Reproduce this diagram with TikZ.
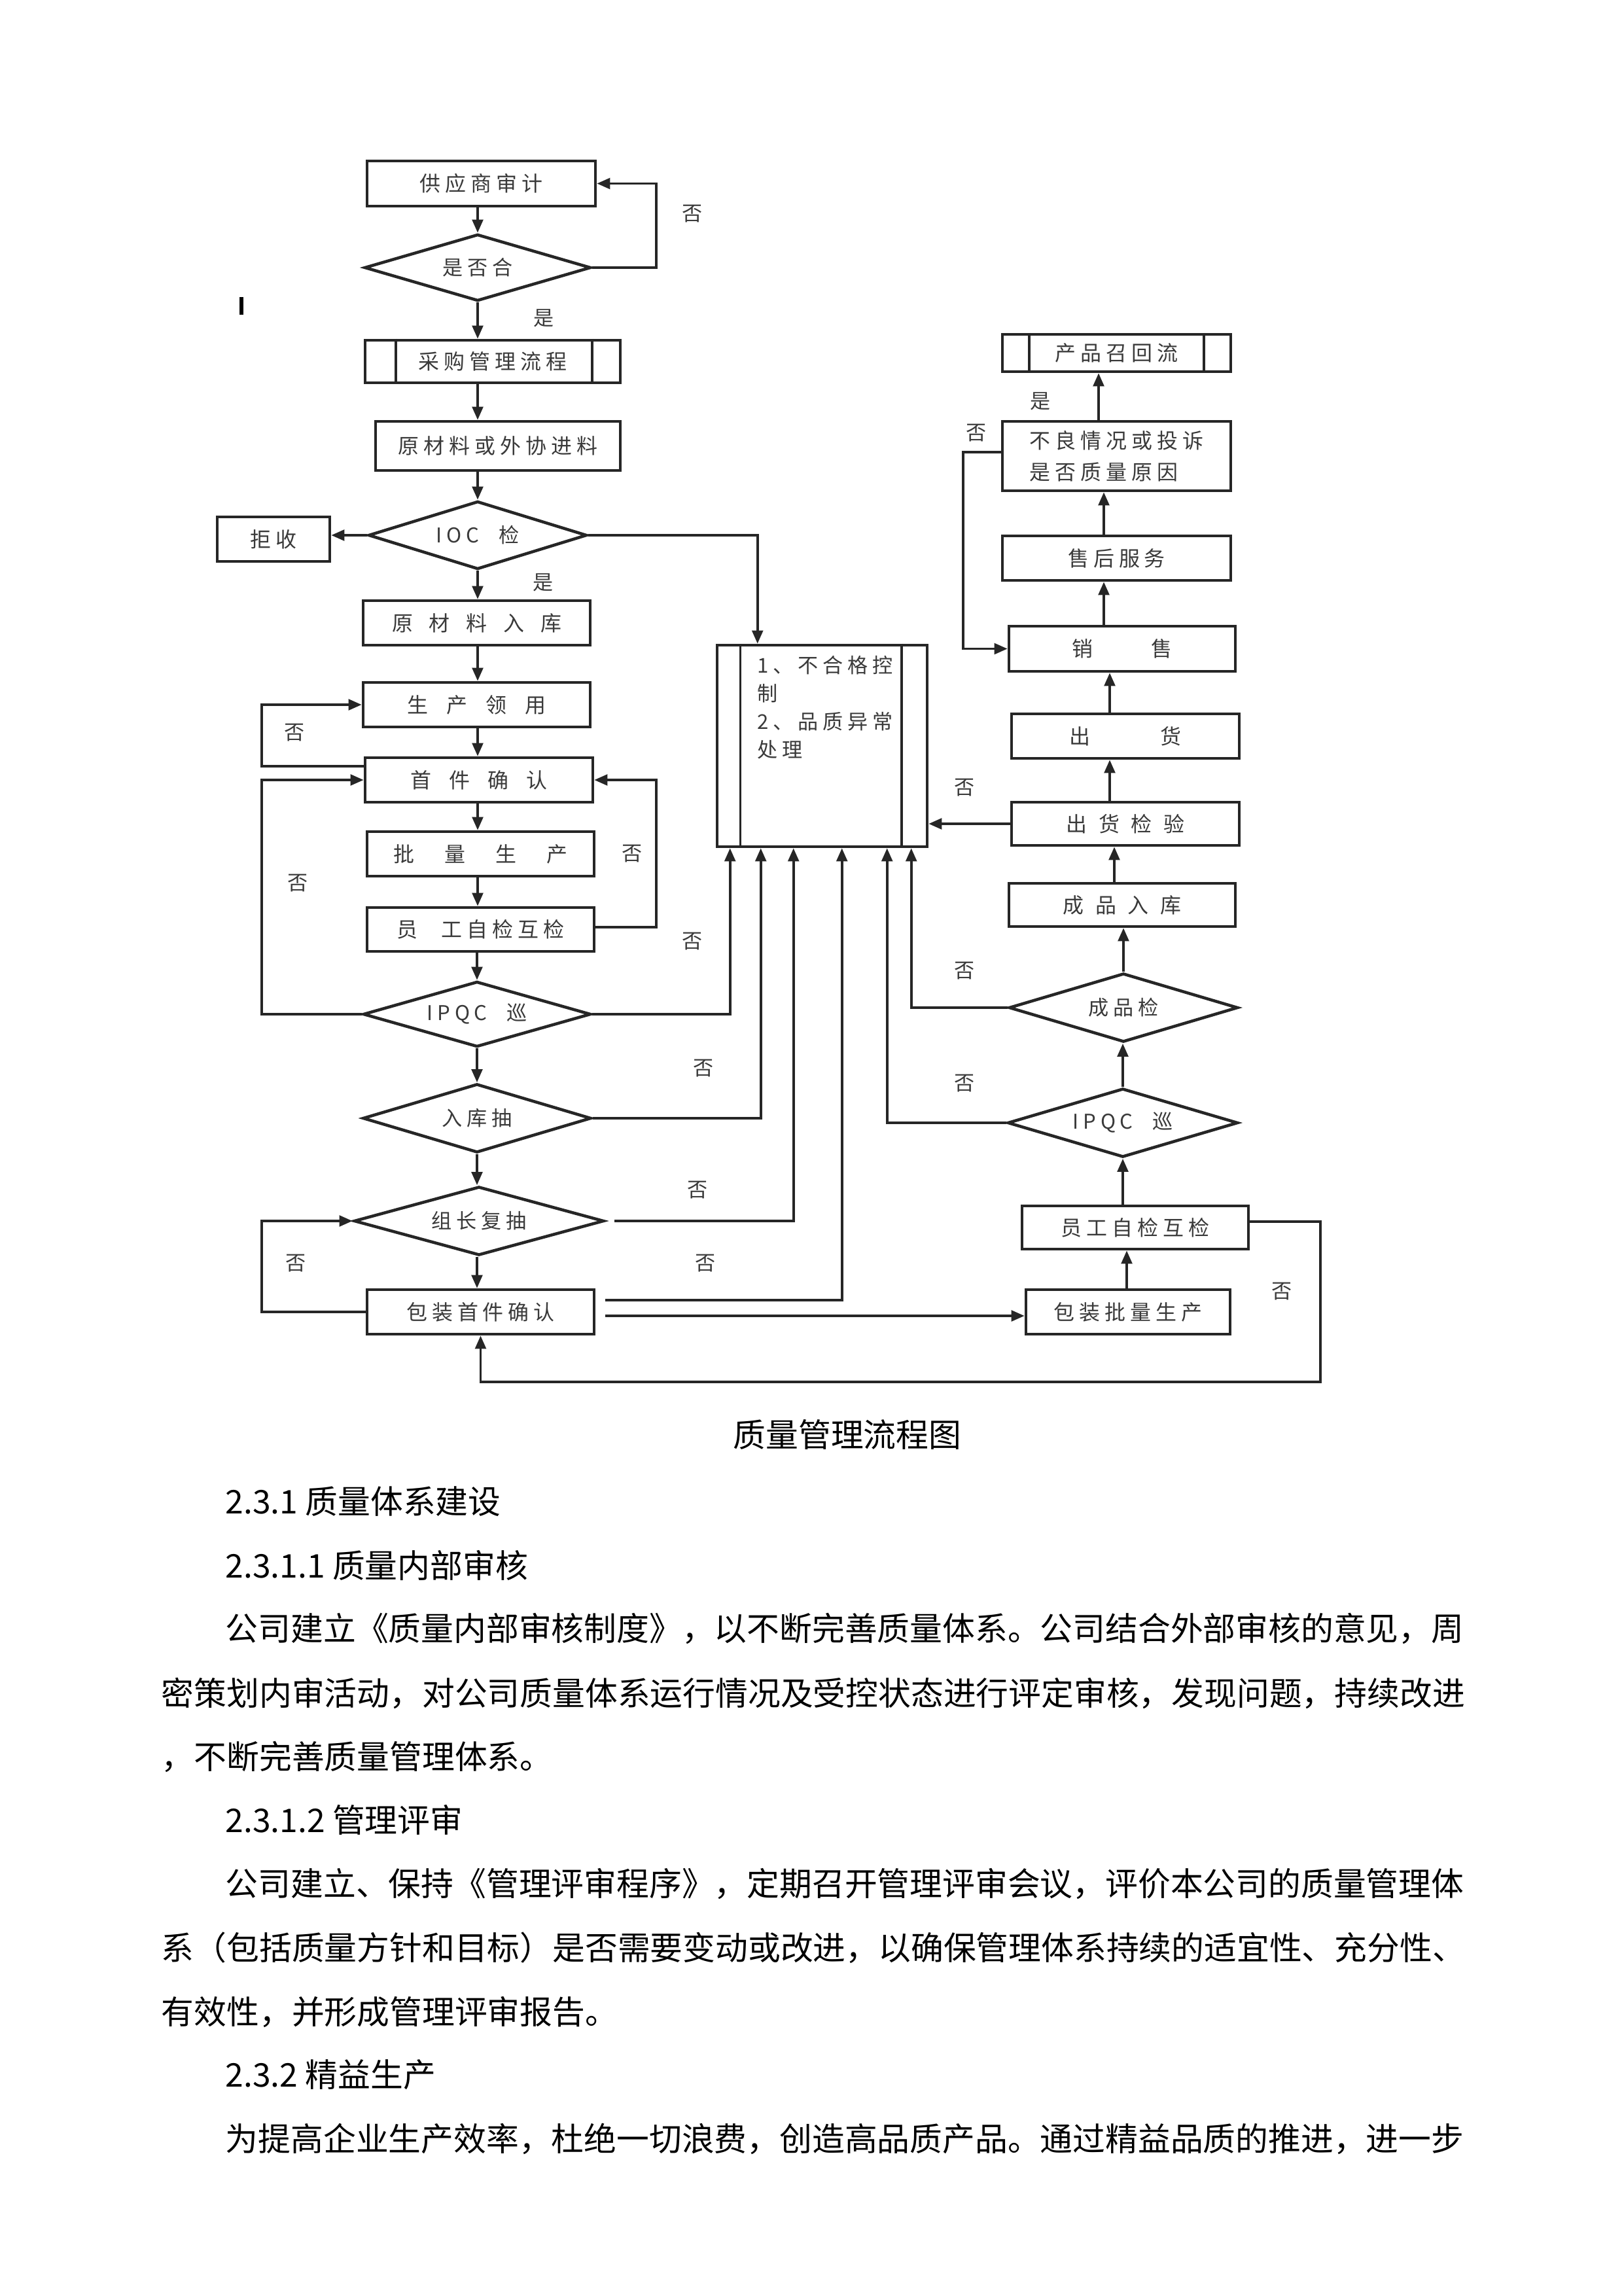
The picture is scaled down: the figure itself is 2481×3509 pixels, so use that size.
\documentclass[tikz,border=0pt]{standalone}
\usepackage{fontspec}
\setmainfont{Noto Sans CJK SC}
\newfontfamily\flowfont[LetterSpace=22]{Noto Sans CJK SC}
\usepackage{xcolor}
\definecolor{QMline}{HTML}{262626}
\definecolor{QMtext}{HTML}{3A3A3A}
\usetikzlibrary{arrows.meta, shapes.geometric, calc, positioning}
\newcommand{\pxu}{0.008464cm}
\newcommand{\chgap}[1]{\hspace{#1}}

\begin{document}
\begin{tikzpicture}[x=0.008464cm, y=-0.008464cm]
  \tikzset{
  stepbox/.style 2 args={draw=QMline, line width=1.1pt, minimum width=#1*\pxu,
    minimum height=#2*\pxu, inner sep=0pt, text=QMtext,
    font=\flowfont\fontsize{7.7pt}{9pt}\selectfont},
  checkbox/.style n args={3}{diamond, draw=QMline, line width=1.1pt, minimum width=#1*\pxu,
    minimum height=#2*\pxu, aspect=#3, inner sep=0pt, text=QMtext,
    font=\flowfont\fontsize{7.5pt}{9pt}\selectfont},
  flowline/.style={QMline, line width=0.9pt},
  flowarrow/.style={flowline, -{Triangle[length=1.7mm, width=1.4mm]}},
  answer/.style={text=QMtext, inner sep=0pt, font=\flowfont\fontsize{7.5pt}{9pt}\selectfont},
  bodytext/.style={anchor=west, inner sep=0pt, font=\fontsize{12pt}{14pt}\selectfont},
}
\useasboundingbox (0,0) rectangle (2481,3509);

% ── Purchasing column ───────────────────────────────────────
\node[stepbox={349}{69}] (audit) at (735.5, 280.5) {供应商审计};
\node[checkbox={346}{102}{3.39}] (pass) at (730, 409) {是否合};
\node[stepbox={390}{65}] (buy) at (753, 552.5) {采购管理流程};
\draw[flowline] ([xshift=0.415cm]buy.north west) -- ([xshift=0.415cm]buy.south west);
\draw[flowline] ([xshift=-0.381cm]buy.north east) -- ([xshift=-0.381cm]buy.south east);
\node[stepbox={374}{75}] (incoming) at (761, 681.5) {原材料或外协进料};
\node[checkbox={334}{104}{3.21}] (iqc) at (730, 818) {IOC\chgap{0.25cm}检};
\node[stepbox={172}{68}] (reject) at (418, 824) {拒收};

\draw[line width=1.5pt] (369,454) -- (369,481);

% ── Production column ───────────────────────────────────────
\node[stepbox={347}{68}] (rawin) at (728.5, 952) {原\chgap{0.21cm}材\chgap{0.21cm}料\chgap{0.21cm}入\chgap{0.21cm}库};
\node[stepbox={347}{68}] (issue) at (728.5, 1077) {生\chgap{0.24cm}产\chgap{0.24cm}领\chgap{0.24cm}用};
\node[stepbox={348}{68}] (first) at (732, 1192) {首\chgap{0.23cm}件\chgap{0.23cm}确\chgap{0.23cm}认};
\node[stepbox={347}{68}] (batch) at (734.5, 1305) {批\chgap{0.39cm}量\chgap{0.39cm}生\chgap{0.39cm}产};
\node[stepbox={347}{67}] (selfL) at (734.5, 1420.5) {员\chgap{0.3cm}工自检互检};
\node[checkbox={348}{100}{3.48}] (ipqcL) at (729, 1550) {IPQC\chgap{0.25cm}巡};
\node[checkbox={349}{105}{3.32}] (sample) at (729, 1709) {入\chgap{0.06cm}库\chgap{0.06cm}抽};
\node[checkbox={382}{105}{3.64}] (leader) at (732, 1866) {组长复抽};
\node[stepbox={347}{68}] (pack) at (734.5, 2005) {包装首件确认};

% ── Nonconformity control ───────────────────────────────────
\node[stepbox={321}{308}] (ctrl) at (1256.5, 1140) {};
\draw[flowline] ([xshift=0.32cm]ctrl.north west) -- ([xshift=0.32cm]ctrl.south west);
\draw[flowline] ([xshift=-0.347cm]ctrl.north east) -- ([xshift=-0.347cm]ctrl.south east);
\node[anchor=north west, align=left, inner sep=0pt, text=QMtext,
      font=\flowfont\fontsize{7.5pt}{10.3pt}\selectfont] (ctrlnote)
  at ($(ctrl.north west)+(63,18)$) {1、不合格控\\制\\2、品质异常\\处理};

\coordinate (cTop) at ($(ctrl.north west)+(64,0)$);
\coordinate (c1) at ($(ctrl.south west)+(22,0)$);
\coordinate (c2) at ($(ctrl.south west)+(69,0)$);
\coordinate (c3) at ($(ctrl.south west)+(119,0)$);
\coordinate (c4) at ($(ctrl.south west)+(193,0)$);
\coordinate (c5) at ($(ctrl.south west)+(262,0)$);
\coordinate (c6) at ($(ctrl.south west)+(299,0)$);

% ── Finished goods / sales column ───────────────────────────
\node[stepbox={349}{57}] (recall) at (1706.5, 539.5) {产品召回流};
\draw[flowline] ([xshift=0.364cm]recall.north west) -- ([xshift=0.364cm]recall.south west);
\draw[flowline] ([xshift=-0.364cm]recall.north east) -- ([xshift=-0.364cm]recall.south east);
\node[stepbox={349}{106}, align=left] (bad) at (1706.5, 697) {不良情况或投诉\\[0.9mm]是否质量原因\hspace{0.32cm}};
\node[stepbox={349}{68}] (service) at (1706.5, 853) {售后服务};
\node[stepbox={346}{69}] (sale) at (1715, 991.5) {销\chgap{0.75cm}售};
\node[stepbox={348}{68}] (ship) at (1720, 1125) {出\chgap{0.9cm}货};
\node[stepbox={348}{66}] (shipchk) at (1720, 1259) {出\chgap{0.15cm}货\chgap{0.15cm}检\chgap{0.15cm}验};
\node[stepbox={346}{66}] (fgin) at (1715, 1383) {成\chgap{0.15cm}品\chgap{0.15cm}入\chgap{0.15cm}库};
\node[checkbox={350}{105}{3.33}] (fgchk) at (1717, 1540) {成品检};
\node[checkbox={352}{105}{3.35}] (ipqcR) at (1716, 1716) {IPQC\chgap{0.25cm}巡};
\node[stepbox={346}{66}] (selfR) at (1735, 1876) {员工自检互检};
\node[stepbox={312}{68}] (packrun) at (1724, 2005) {包装批量生产};

% ── Loop guides ─────────────────────────────────────────────
\coordinate (loopL) at (400, 0);
\coordinate (loopM) at (1003, 0);
\coordinate (loopS) at (1472, 0);
\coordinate (loopR) at (2018, 2112);

% main flow, left
\draw[flowarrow] (audit.south -| pass.north) -- (pass.north);
\draw[flowarrow] (pass.south) -- (buy.north -| pass.south);
\draw[flowarrow] (buy.south -| pass.south) -- (incoming.north -| pass.south);
\draw[flowarrow] (incoming.south -| iqc.north) -- (iqc.north);
\draw[flowarrow] (iqc.west) -- (iqc.west -| reject.east);
\draw[flowarrow] (iqc.south) -- (rawin.north -| iqc.south);
\draw[flowarrow] (rawin.south -| iqc.south) -- (issue.north -| iqc.south);
\draw[flowarrow] (issue.south -| iqc.south) -- (first.north -| iqc.south);
\draw[flowarrow] (first.south -| iqc.south) -- (batch.north -| iqc.south);
\draw[flowarrow] (batch.south -| iqc.south) -- (selfL.north -| iqc.south);
\draw[flowarrow] (selfL.south -| ipqcL.north) -- (ipqcL.north);
\draw[flowarrow] (ipqcL.south) -- (sample.north);
\draw[flowarrow] (sample.south) -- (leader.north -| sample.south);
\draw[flowarrow] (leader.south -| sample.south) -- (pack.north -| sample.south);

% loops, left
\draw[flowarrow] (pass.east) -| (loopM |- audit.east) -- (audit.east);
\draw[flowarrow] (first.west |- 0,1171) -| (loopL |- issue.west) -- (issue.west);
\draw[flowarrow] (ipqcL.west) -| (loopL |- first.west) -- (first.west);
\draw[flowarrow] (selfL.east |- 0,1417) -| (loopM |- first.east) -- (first.east);
\draw[flowarrow] (pack.west) -| (loopL |- leader.west) -- (leader.west);

% to nonconformity control
\draw[flowarrow] (iqc.east) -| (cTop);
\draw[flowarrow] (ipqcL.east) -| (c1);
\draw[flowarrow] (sample.east) -| (c2);
\draw[flowarrow] ([xshift=0.12cm]leader.east) -| (c3);
\draw[flowarrow] ($(pack.east |- 0,1987)+(15,0)$) -| (c4);
\draw[flowarrow] (ipqcR.west) -| (c5);
\draw[flowarrow] (fgchk.west) -| (c6);
\draw[flowarrow] (shipchk.west) -- (shipchk.west -| ctrl.east);

% main flow, right
\draw[flowarrow] ($(pack.east |- 0,2011)+(15,0)$) -- (packrun.west |- 0,2011);
\draw[flowarrow] (packrun.north -| 1722,0) -- (selfR.south -| 1722,0);
\draw[flowarrow] (ipqcR.south |- selfR.north) -- (ipqcR.south);
\draw[flowarrow] (ipqcR.north) -- (fgchk.south -| ipqcR.north);
\draw[flowarrow] (fgchk.north) -- (fgin.south -| fgchk.north);
\draw[flowarrow] (fgin.north -| 1703,0) -- (shipchk.south -| 1703,0);
\draw[flowarrow] (shipchk.north -| 1696,0) -- (ship.south -| 1696,0);
\draw[flowarrow] (ship.north -| 1696,0) -- (sale.south -| 1696,0);
\draw[flowarrow] (sale.north -| 1687,0) -- (service.south -| 1687,0);
\draw[flowarrow] (service.north -| 1687,0) -- (bad.south -| 1687,0);
\draw[flowarrow] (bad.north -| 1679,0) -- (recall.south -| 1679,0);
\draw[flowarrow] (bad.west |- 0,691) -| (loopS |- sale.west) -- (sale.west);
\draw[flowarrow] (selfR.east |- 0,1867) -| (loopR) -| (pack.south);

% ── Answers ─────────────────────────────────────────────────
\node[answer] (n1) at (1058, 327) {否};
\node[answer] (y1) at (831, 486) {是};
\node[answer] (y2) at (830, 890) {是};
\node[answer] (n2) at (450, 1120) {否};
\node[answer] (n3) at (966, 1305) {否};
\node[answer] (n4) at (455, 1350) {否};
\node[answer] (n5) at (1058, 1439) {否};
\node[answer] (n6) at (1075, 1633) {否};
\node[answer] (n7) at (1066, 1819) {否};
\node[answer] (n8) at (452, 1931) {否};
\node[answer] (n9) at (1078, 1931) {否};
\node[answer] (n10) at (1959, 1974) {否};
\node[answer] (n11) at (1474, 1656) {否};
\node[answer] (n12) at (1474, 1484) {否};
\node[answer] (n13) at (1474, 1204) {否};
\node[answer] (n14) at (1492, 662) {否};
\node[answer] (y3) at (1590, 613) {是};

% ── Page text ───────────────────────────────────────────────
\node[bodytext, anchor=center] (caption) at (1295, 2192) {质量管理流程图};
\node[bodytext] (h1) at (344, 2295) {2.3.1 质量体系建设};
\node[bodytext] (h2) at (344, 2392) {2.3.1.1 质量内部审核};
\node[bodytext] (p1a) at (344, 2489) {公司建立《质量内部审核制度》，以不断完善质量体系。公司结合外部审核的意见，周};
\node[bodytext] (p1b) at (246, 2588) {密策划内审活动，对公司质量体系运行情况及受控状态进行评定审核，发现问题，持续改进};
\node[bodytext] (p1c) at (246, 2685) {，不断完善质量管理体系。};
\node[bodytext] (h3) at (344, 2781) {2.3.1.2 管理评审};
\node[bodytext] (p2a) at (344, 2879) {公司建立、保持《管理评审程序》，定期召开管理评审会议，评价本公司的质量管理体};
\node[bodytext] (p2b) at (246, 2977) {系（包括质量方针和目标）是否需要变动或改进，以确保管理体系持续的适宜性、充分性、};
\node[bodytext] (p2c) at (246, 3075) {有效性，并形成管理评审报告。};
\node[bodytext] (h4) at (344, 3171) {2.3.2 精益生产};
\node[bodytext] (p3a) at (344, 3269) {为提高企业生产效率，杜绝一切浪费，创造高品质产品。通过精益品质的推进，进一步};
\end{tikzpicture}
\end{document}
